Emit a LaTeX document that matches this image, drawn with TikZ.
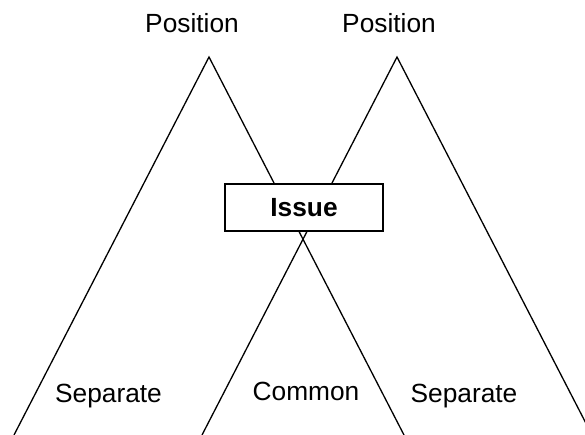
\documentclass[tikz,border=0pt]{standalone}
\usepackage{fontspec}
\setmainfont{Liberation Sans}
\begin{document}
\begin{tikzpicture}[x=1pt,y=-1pt,
  side/.style={line width=1.3pt},
  lbl/.style={font=\fontsize{26.3}{31}\selectfont, inner sep=0pt, anchor=base},
  issuebox/.style={draw, line width=1.3pt, fill=white, minimum width=158pt,
    minimum height=47pt, inner sep=0pt, font=\fontsize{26.3}{31}\selectfont\bfseries}]
  \useasboundingbox (0,0) rectangle (585,435);
  \clip (0,0) rectangle (585,435);
  % apexes and base corners of the two position triangles
  \coordinate (lt) at (209,57);
  \coordinate (lbl) at (14,435);
  \coordinate (lbr) at (404,435);
  \coordinate (rt) at (397,57);
  \coordinate (rbl) at (202,435);
  \coordinate (rbr) at (592,435);
  \draw[side] (lbl) -- (lt) -- (lbr);
  \draw[side] (rbl) -- (rt) -- (rbr);
  % the shared issue sits over the crossing sides
  \node[issuebox] (issue) at (304,207.5) {Issue};
  % labels
  \node[lbl] (posl) at (192,33) {Position};
  \node[lbl] (posr) at (389,33) {Position};
  \node[lbl] (sepl) at (108.5,402) {Separate};
  \node[lbl] (comm) at (306,400) {Common};
  \node[lbl] (sepr) at (464,402) {Separate};
\end{tikzpicture}
\end{document}
